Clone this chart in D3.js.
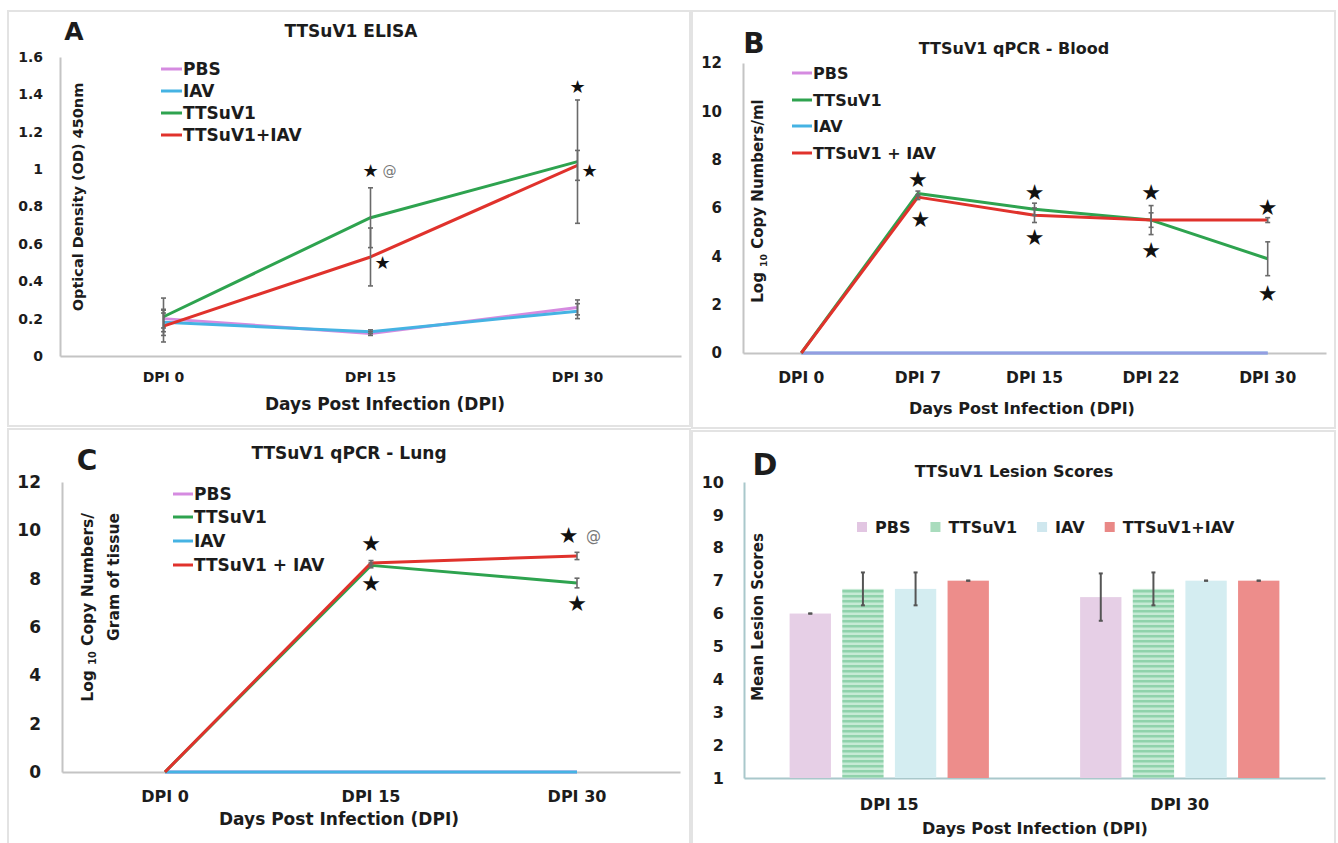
<!DOCTYPE html>
<html><head><meta charset="utf-8">
<script src="https://cdn.jsdelivr.net/npm/d3@7"></script>
<style>
html,body{margin:0;padding:0;background:#fff;}
svg{display:block;font-family:"DejaVu Sans",sans-serif;font-weight:bold;}
</style></head><body>
<svg id="chart" width="1338" height="843"></svg>
<script>
// ================= DATA =================
// Panel A – ELISA
const aCategories = ["DPI 0", "DPI 15", "DPI 30"];
const aTicks = [0, 0.2, 0.4, 0.6, 0.8, 1, 1.2, 1.4, 1.6];
const aNames = ["PBS", "IAV", "TTSuV1", "TTSuV1+IAV"];
const aPBS = [0.20, 0.12, 0.26];
const aPBSErr = [0.05, 0.01, 0.04];
const aIAV = [0.18, 0.13, 0.24];
const aIAVErr = [0.05, 0.01, 0.04];
const aTTSuV1 = [0.21, 0.74, 1.04];
const aTTSuV1Err = [0.10, 0.16, 0.33];
const aCombo = [0.16, 0.53, 1.02];
const aComboErr = [0.085, 0.155, 0.08];
const aStars = [
  {cat: "DPI 15", value: 0.99, shift: 0, at: true},
  {cat: "DPI 15", value: 0.50, shift: 1, at: false},
  {cat: "DPI 30", value: 1.44, shift: 0, at: false},
  {cat: "DPI 30", value: 0.99, shift: 1, at: false}
];

// Panel B – qPCR Blood
const bCategories = ["DPI 0", "DPI 7", "DPI 15", "DPI 22", "DPI 30"];
const bTicks = [0, 2, 4, 6, 8, 10, 12];
const bNames = ["PBS", "TTSuV1", "IAV", "TTSuV1 + IAV"];
const bPBS = [0, 0, 0, 0, 0];
const bIAV = [0, 0, 0, 0, 0];
const bTTSuV1 = [0, 6.6, 5.95, 5.5, 3.9];
const bTTSuV1Err = [0, 0.1, 0.25, 0.6, 0.7];
const bCombo = [0, 6.45, 5.7, 5.5, 5.5];
const bComboErr = [0, 0.1, 0.3, 0.3, 0.1];
const bStars = [
  {cat: "DPI 7", value: 7.2, shift: 0}, {cat: "DPI 7", value: 5.55, shift: 0.2},
  {cat: "DPI 15", value: 6.66, shift: 0}, {cat: "DPI 15", value: 4.8, shift: 0},
  {cat: "DPI 22", value: 6.66, shift: 0}, {cat: "DPI 22", value: 4.26, shift: 0},
  {cat: "DPI 30", value: 6.04, shift: 0}, {cat: "DPI 30", value: 2.48, shift: 0}
];

// Panel C – qPCR Lung
const cCategories = ["DPI 0", "DPI 15", "DPI 30"];
const cTicks = [0, 2, 4, 6, 8, 10, 12];
const cNames = ["PBS", "TTSuV1", "IAV", "TTSuV1 + IAV"];
const cPBS = [0, 0, 0];
const cIAV = [0, 0, 0];
const cTTSuV1 = [0, 8.55, 7.82];
const cTTSuV1Err = [0, 0.1, 0.2];
const cCombo = [0, 8.65, 8.94];
const cComboErr = [0, 0.1, 0.15];
const cStars = [
  {cat: "DPI 15", value: 9.47, shift: 0}, {cat: "DPI 15", value: 7.82, shift: 0},
  {cat: "DPI 30", value: 9.8, shift: -0.7, at: true}, {cat: "DPI 30", value: 7.0, shift: 0}
];

// Panel D – Lesion scores
const dCategories = ["DPI 15", "DPI 30"];
const dTicks = [1, 2, 3, 4, 5, 6, 7, 8, 9, 10];
const dNames = ["PBS", "TTSuV1", "IAV", "TTSuV1+IAV"];
const dPBS = [6.0, 6.5];
const dPBSErr = [0, 0.72];
const dTTSuV1 = [6.75, 6.75];
const dTTSuV1Err = [0.5, 0.5];
const dIAV = [6.75, 7.0];
const dIAVErr = [0.5, 0];
const dCombo = [7.0, 7.0];
const dComboErr = [0, 0];

// ================= STYLE / LAYOUT =================
const COL = {PBS: "#d58be0", IAV: "#45b3e3", TT: "#2ea34f", COMBO: "#e0322c"};
const TXT = "#1c1c1c";
const svg = d3.select("#chart");

const defs = svg.append("defs");
const stripe = defs.append("pattern").attr("id", "greenStripe")
  .attr("patternUnits", "userSpaceOnUse").attr("width", 6).attr("height", 5);
stripe.append("rect").attr("width", 6).attr("height", 5).attr("fill", "#c6ead5");
stripe.append("rect").attr("width", 6).attr("height", 2.5).attr("fill", "#8fd2ab");

function panelRect(p) {
  svg.append("rect").attr("x", p[0]).attr("y", p[1]).attr("width", p[2]).attr("height", p[3])
    .attr("fill", "#fff").attr("stroke", "#e3e3e3").attr("stroke-width", 2);
}

function text(g, t, x, y, size, anchor) {
  return g.append("text").attr("x", x).attr("y", y).attr("font-size", size)
    .attr("text-anchor", anchor || "middle").attr("fill", TXT).text(t);
}

function commonFrame(L, cats, ticks, axisColor) {
  panelRect(L.panel);
  const g = svg.append("g");
  const x = d3.scaleBand().domain(cats).range(L.x).padding(0);
  const y = d3.scaleLinear().domain([ticks[0], ticks[ticks.length - 1]]).range(L.y);
  const fmt = d => String(Math.round(d * 10) / 10);
  const ya = g.append("g").attr("transform", `translate(${L.x[0]},0)`)
    .call(d3.axisLeft(y).tickValues(ticks).tickSize(0).tickPadding(L.tickPad).tickFormat(fmt));
  ya.select(".domain").attr("stroke", axisColor).attr("stroke-width", 2);
  ya.selectAll("text").attr("font-size", L.tickFont).attr("fill", TXT)
    .attr("font-family", "DejaVu Sans").attr("font-weight", "bold");
  const xa = g.append("g").attr("transform", `translate(0,${L.y[0]})`)
    .call(d3.axisBottom(x).tickSize(0).tickPadding(L.catPad));
  xa.select(".domain").attr("stroke", axisColor).attr("stroke-width", 2);
  xa.selectAll("text").attr("font-size", L.catFont).attr("fill", TXT)
    .attr("font-family", "DejaVu Sans").attr("font-weight", "bold");
  text(g, L.letter.t, L.letter.x, L.letter.y, L.letter.size);
  text(g, L.title.t, L.title.x, L.title.y, L.title.size);
  text(g, "Days Post Infection (DPI)", L.xTitle.x, L.xTitle.y, L.xTitle.size);
  return {g, x, y, cx: c => x(c) + x.bandwidth() / 2};
}

function yTitleLog(g, Ly, lines) {
  lines.forEach(ln => {
    const t = g.append("text")
      .attr("transform", `translate(${ln.x},${Ly.y}) rotate(-90)`)
      .attr("text-anchor", Ly.anchor).attr("dy", "0.36em")
      .attr("font-size", Ly.size).attr("fill", TXT);
    ln.parts.forEach(p => {
      const s = t.append("tspan").text(p.t);
      if (p.sub) s.attr("font-size", Ly.size * 0.62).attr("dy", "0.35em");
      if (p.after) s.attr("dy", "-0.22em");
    });
  });
}

function drawLinePanel(L, cats, ticks, names, seriesList, stars) {
  const {g, x, y, cx} = commonFrame(L, cats, ticks, "#c4c4c4");
  const line = d3.line().x((d, i) => cx(cats[i])).y(d => y(d));
  seriesList.forEach(s => {
    g.append("path").datum(s.values).attr("d", line).attr("fill", "none")
      .attr("stroke", s.color).attr("stroke-width", 3).attr("stroke-linejoin", "round")
      .attr("stroke-opacity", s.opacity || 1);
  });
  seriesList.forEach(s => {
    if (!s.err) return;
    s.values.forEach((v, i) => {
      const e = s.err[i];
      if (!e) return;
      const xc = cx(cats[i]);
      g.append("line").attr("x1", xc).attr("x2", xc).attr("y1", y(v - e)).attr("y2", y(v + e))
        .attr("stroke", "#6a6a6a").attr("stroke-width", 1.6);
      [v - e, v + e].forEach(w => g.append("line").attr("x1", xc - 2.5).attr("x2", xc + 2.5)
        .attr("y1", y(w)).attr("y2", y(w)).attr("stroke", "#6a6a6a").attr("stroke-width", 1.6));
    });
  });
  stars.forEach(st => {
    const xs = cx(st.cat) + (st.shift || 0) * 12;
    g.append("text").attr("x", xs).attr("y", y(st.value)).attr("dy", "0.36em")
      .attr("text-anchor", "middle").attr("font-size", L.star).attr("fill", "#111")
      .attr("font-weight", "normal").text("\u2605");
    if (st.at) g.append("text").attr("x", xs + L.atGap).attr("y", y(st.value)).attr("dy", "0.36em")
      .attr("text-anchor", "middle").attr("font-size", L.atSize).attr("fill", "#777")
      .attr("font-weight", "normal").text("@");
  });
  names.forEach((n, i) => {
    const s = seriesList.find(q => q.name === n);
    const yy = L.legend.ys[i];
    g.append("line").attr("x1", L.legend.x).attr("x2", L.legend.x + L.legend.len)
      .attr("y1", yy).attr("y2", yy).attr("stroke", s.color).attr("stroke-width", 3);
    g.append("text").attr("x", L.legend.x + L.legend.len + 1).attr("y", yy).attr("dy", "0.36em")
      .attr("font-size", L.legend.size).attr("fill", TXT).text(n);
  });
  return g;
}

// ---------- Panel A ----------
const LA = {panel: [8, 11, 682, 415], x: [60, 681], y: [356, 57], tickPad: 17, catPad: 16,
  tickFont: 14, catFont: 14,
  letter: {t: "A", x: 74, y: 40, size: 25}, title: {t: "TTSuV1 ELISA", x: 351, y: 37, size: 17},
  xTitle: {x: 385, y: 410, size: 17},
  legend: {x: 161, len: 21, ys: [69, 91, 113, 135], size: 17}, star: 18, atGap: 19, atSize: 14};
const gA = drawLinePanel(LA, aCategories, aTicks, aNames, [
  {name: "PBS", values: aPBS, err: aPBSErr, color: COL.PBS},
  {name: "IAV", values: aIAV, err: aIAVErr, color: COL.IAV},
  {name: "TTSuV1", values: aTTSuV1, err: aTTSuV1Err, color: COL.TT},
  {name: "TTSuV1+IAV", values: aCombo, err: aComboErr, color: COL.COMBO}
], aStars);
gA.append("text").attr("transform", "translate(78,197) rotate(-90)").attr("text-anchor", "middle")
  .attr("dy", "0.36em").attr("font-size", 14.5).attr("fill", TXT).text("Optical Density (OD) 450nm");

// ---------- Panel B ----------
const LB = {panel: [692, 11, 643, 417], x: [743, 1326], y: [353, 63], tickPad: 21, catPad: 19,
  tickFont: 15, catFont: 15.5,
  letter: {t: "B", x: 754, y: 53, size: 28}, title: {t: "TTSuV1 qPCR - Blood", x: 1014, y: 54, size: 16},
  xTitle: {x: 1022, y: 414, size: 16},
  legend: {x: 792, len: 20, ys: [73, 100, 126, 153], size: 16}, star: 22, atGap: 22, atSize: 15};
const gB = drawLinePanel(LB, bCategories, bTicks, bNames, [
  {name: "IAV", values: bIAV, color: COL.IAV},
  {name: "PBS", values: bPBS, color: COL.PBS, opacity: 0.55},
  {name: "TTSuV1", values: bTTSuV1, err: bTTSuV1Err, color: COL.TT},
  {name: "TTSuV1 + IAV", values: bCombo, err: bComboErr, color: COL.COMBO}
], bStars);
yTitleLog(gB, {y: 201, size: 15, anchor: "middle"}, [
  {x: 758, parts: [{t: "Log "}, {t: "10", sub: true}, {t: " Copy Numbers/ml", after: true}]}
]);

// ---------- Panel C ----------
const LC = {panel: [8, 429, 682, 420], x: [62, 680], y: [772, 482], tickPad: 21, catPad: 19,
  tickFont: 17, catFont: 16,
  letter: {t: "C", x: 87, y: 470, size: 28}, title: {t: "TTSuV1 qPCR - Lung", x: 349, y: 459, size: 17},
  xTitle: {x: 339, y: 825, size: 17},
  legend: {x: 173, len: 20, ys: [494, 517, 541, 565], size: 17}, star: 22, atGap: 25, atSize: 15};
const gC = drawLinePanel(LC, cCategories, cTicks, cNames, [
  {name: "PBS", values: cPBS, color: COL.PBS},
  {name: "IAV", values: cIAV, color: COL.IAV},
  {name: "TTSuV1", values: cTTSuV1, err: cTTSuV1Err, color: COL.TT},
  {name: "TTSuV1 + IAV", values: cCombo, err: cComboErr, color: COL.COMBO}
], cStars);
yTitleLog(gC, {y: 513, size: 15.5, anchor: "end"}, [
  {x: 87, parts: [{t: "Log "}, {t: "10", sub: true}, {t: " Copy Numbers/", after: true}]},
  {x: 113, parts: [{t: "Gram of tissue"}]}
]);

// ---------- Panel D ----------
const LD = {panel: [692, 431, 643, 420], x: [744, 1325], y: [778, 482], tickPad: 20, catPad: 21,
  tickFont: 16, catFont: 16,
  letter: {t: "D", x: 765, y: 475, size: 30}, title: {t: "TTSuV1 Lesion Scores", x: 1014, y: 477, size: 16},
  xTitle: {x: 1035, y: 834, size: 16}};
const fD = commonFrame(LD, dCategories, dTicks, "#a9c8cb");
const dSeries = [
  {name: "PBS", values: dPBS, err: dPBSErr, fill: "#e6cfe6", key: "#e2c6e2"},
  {name: "TTSuV1", values: dTTSuV1, err: dTTSuV1Err, fill: "url(#greenStripe)", key: "#a9dcbd"},
  {name: "IAV", values: dIAV, err: dIAVErr, fill: "#d4edf1", key: "#cfe7ee"},
  {name: "TTSuV1+IAV", values: dCombo, err: dComboErr, fill: "#ed8d8b", key: "#e98886"}
];
const x0 = d3.scaleBand().domain(dCategories).range(LD.x).paddingInner(0.314).paddingOuter(0.157);
const x1 = d3.scaleBand().domain(dNames).range([0, x0.bandwidth()]).paddingInner(0.215).paddingOuter(0);
const yD = fD.y;
dSeries.forEach(s => {
  s.values.forEach((v, i) => {
    const bx = x0(dCategories[i]) + x1(s.name);
    fD.g.append("rect").attr("x", bx).attr("width", x1.bandwidth())
      .attr("y", yD(v)).attr("height", yD(dTicks[0]) - yD(v)).attr("fill", s.fill);
  });
});
dSeries.forEach(s => {
  s.values.forEach((v, i) => {
    const xc = x0(dCategories[i]) + x1(s.name) + x1.bandwidth() / 2;
    const e = s.err[i];
    fD.g.append("line").attr("x1", xc).attr("x2", xc).attr("y1", yD(v - e)).attr("y2", yD(v + e))
      .attr("stroke", "#555").attr("stroke-width", 2);
    [v - e, v + e].forEach(w => fD.g.append("line").attr("x1", xc - 2).attr("x2", xc + 2)
      .attr("y1", yD(w)).attr("y2", yD(w)).attr("stroke", "#555").attr("stroke-width", 2));
  });
});
let lx = 857;
dSeries.forEach(s => {
  fD.g.append("rect").attr("x", lx).attr("y", 522).attr("width", 10).attr("height", 10).attr("fill", s.key);
  const t = fD.g.append("text").attr("x", lx + 18).attr("y", 527).attr("dy", "0.36em")
    .attr("font-size", 16).attr("fill", TXT).text(s.name);
  lx += 18 + t.node().getComputedTextLength() + 20;
});
fD.g.append("text").attr("transform", "translate(758,617) rotate(-90)").attr("text-anchor", "middle")
  .attr("dy", "0.36em").attr("font-size", 15).attr("fill", TXT).text("Mean Lesion Scores");
</script>
</body></html>
